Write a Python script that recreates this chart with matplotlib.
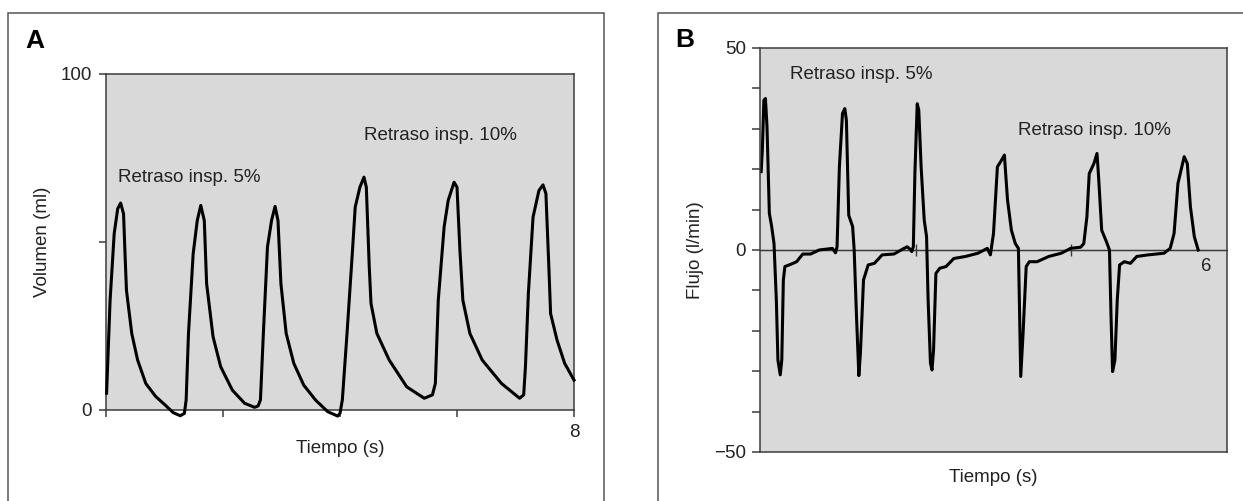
import numpy as np
import matplotlib
matplotlib.use('Agg')
import matplotlib.pyplot as plt
from matplotlib.patches import Rectangle

plt.rcParams['font.family'] = ['Liberation Sans', 'DejaVu Sans']

# Panel A: volumen (ml) frente a tiempo (s)
t_vol = [0.01, 0.07, 0.14, 0.20, 0.25, 0.30, 0.325, 0.35, 0.44, 0.54, 0.68, 0.85, 1.01, 1.15, 1.27, 1.34,
         1.37, 1.41, 1.49, 1.56, 1.62, 1.68, 1.72, 1.83, 1.96, 2.16, 2.37, 2.54, 2.60,
         2.64, 2.69, 2.76, 2.83, 2.89, 2.94, 2.99, 3.08, 3.21, 3.38, 3.58, 3.79, 3.96, 4.00,
         4.04, 4.12, 4.21, 4.26, 4.34, 4.41, 4.45, 4.50, 4.53, 4.63, 4.84, 5.14, 5.44, 5.58,
         5.63, 5.68, 5.78, 5.85, 5.95, 6.00, 6.05, 6.10, 6.22, 6.43, 6.76, 7.07, 7.14,
         7.17, 7.22, 7.30, 7.40, 7.47, 7.52, 7.57, 7.60, 7.71, 7.84, 8.00]
vol = [5.0, 32.7, 52.5, 59.9, 61.6, 58.4, 46.5, 35.6, 22.8, 14.9, 7.9, 4.0, 1.5, -0.8, -1.7, -1.0,
       3.0, 22.8, 46.5, 56.4, 60.9, 56.4, 37.6, 21.8, 12.9, 5.9, 2.0, 0.8, 1.2,
       3.0, 22.8, 48.5, 56.4, 60.6, 56.4, 37.6, 22.8, 13.9, 7.4, 3.0, -0.5, -1.8, -1.0,
       3.0, 22.8, 46.5, 60.4, 66.3, 69.3, 66.3, 42.6, 31.7, 22.8, 14.9, 6.9, 3.5, 4.5,
       7.9, 32.7, 54.5, 62.4, 67.8, 66.3, 47.5, 32.7, 22.8, 14.9, 7.9, 3.5, 4.5,
       12.9, 34.7, 57.4, 65.3, 67.0, 64.4, 42.6, 28.7, 20.8, 13.9, 8.9]

# Panel B: flujo (l/min) frente a tiempo (s)
t_flujo = [0.015, 0.03, 0.05, 0.07, 0.09, 0.12, 0.15, 0.18, 0.21, 0.23, 0.26, 0.28, 0.30, 0.32,
           0.40, 0.47, 0.55, 0.65, 0.76, 0.93, 0.97, 0.99,
           1.02, 1.06, 1.09, 1.11, 1.14, 1.19, 1.21, 1.24, 1.27, 1.29, 1.33, 1.39, 1.47,
           1.57, 1.72, 1.85, 1.89, 1.93, 1.95, 1.97,
           1.99, 2.02, 2.04, 2.07, 2.11, 2.14, 2.16, 2.19, 2.21, 2.23, 2.26, 2.31, 2.39,
           2.49, 2.64, 2.80, 2.92, 2.96,
           3.00, 3.05, 3.09, 3.14, 3.18, 3.23, 3.28, 3.32, 3.35, 3.38, 3.42, 3.46, 3.56,
           3.71, 3.87, 3.99, 4.12, 4.16,
           4.20, 4.23, 4.29, 4.33, 4.35, 4.39, 4.45, 4.49, 4.51, 4.53, 4.56, 4.59, 4.62,
           4.68, 4.76, 4.84, 4.99, 5.19, 5.27,
           5.32, 5.37, 5.41, 5.45, 5.49, 5.53, 5.58, 5.63]
flujo = [19.4, 24.7, 37.1, 37.5, 30.5, 9.1, 5.8, 1.6, -12.4, -27.2, -30.9, -27.2, -7.4, -4.1,
         -3.5, -2.9, -1.0, -1.0, 0.0, 0.4, -0.7, 0.8,
         20.6, 33.8, 35.0, 32.1, 8.6, 5.8, 0.0, -16.5, -31.1, -25.5, -7.4, -3.7, -3.3,
         -1.2, -1.0, 0.4, 0.8, 0.2, -0.4, 0.8,
         18.9, 36.2, 34.6, 20.6, 7.4, 3.3, -12.4, -28.0, -29.7, -24.7, -5.8, -4.5, -4.1,
         -2.1, -1.6, -0.8, 0.4, -1.2,
         4.1, 20.6, 21.8, 23.5, 12.4, 4.9, 1.6, 0.4, -31.3, -20.6, -4.1, -2.9, -2.9,
         -1.6, -0.8, 0.4, 0.7, 1.6,
         8.2, 18.9, 21.4, 23.9, 18.1, 4.9, 2.1, 0.0, -16.5, -30.1, -27.2, -12.4, -3.7,
         -2.9, -3.3, -1.6, -1.2, -0.8, 0.4,
         4.1, 16.5, 19.8, 23.1, 21.4, 10.7, 3.3, 0.0]

fondo = '#d9d9d9'
borde = '#3c3c3c'
texto = '#222222'
fs = 13.5

fig = plt.figure(figsize=(12.43, 5.01), dpi=100)

# marcos de cada panel (abiertos por abajo)
for x0, x1 in [(8, 604), (658, 1300)]:
    fig.add_artist(Rectangle((x0 / 1243, -0.2), (x1 - x0) / 1243, 1.2 - 13 / 501,
                             transform=fig.transFigure, fill=False, ec='#555555', lw=1.1,
                             clip_on=False))

# --- Panel A ---
axA = fig.add_axes([106 / 1243, 91 / 501, 468 / 1243, 336 / 501])
axA.set_facecolor(fondo)
axA.plot(t_vol, vol, color='black', lw=2.2, solid_joinstyle='round', clip_on=False, zorder=3)
axA.set_xlim(0, 8)
axA.set_ylim(0, 100)
axA.set_xticks([0, 2, 4, 6, 8], ['', '', '', '', '8'])
axA.set_yticks([0, 50, 100], ['0', '', '100'])
axA.tick_params(direction='out', length=5, width=1.1, color=borde, labelsize=fs,
                labelcolor=texto, pad=5)
for s in axA.spines.values():
    s.set_color(borde)
    s.set_linewidth(1.1)
axA.set_ylabel('Volumen (ml)', fontsize=fs, color=texto, va='center')
axA.yaxis.set_label_coords(-0.135, 0.5)
axA.set_xlabel('Tiempo (s)', fontsize=fs, color=texto, va='center')
axA.xaxis.set_label_coords(0.5, -0.116)
axA.text(0.2, 69.3, 'Retraso insp. 5%', fontsize=fs, color=texto, va='center')
axA.text(4.41, 81.7, 'Retraso insp. 10%', fontsize=fs, color=texto, va='center')
fig.text(25 / 1243, (501 - 48) / 501, 'A', fontsize=19, fontweight='bold', va='baseline')

# --- Panel B ---
axB = fig.add_axes([760 / 1243, 49 / 501, 467 / 1243, 404 / 501])
axB.set_facecolor(fondo)
axB.axhline(0, color=borde, lw=1.0, zorder=1)
axB.plot(t_flujo, flujo, color='black', lw=2.2, solid_joinstyle='round', zorder=2)
axB.set_xlim(0, 6)
axB.set_ylim(-50, 50)
axB.set_xticks([])
axB.set_yticks(np.arange(-50, 51, 10),
               ['\u221250', '', '', '', '', '0', '', '', '', '', '50'])
axB.tick_params(axis='y', direction='out', length=6, width=1.1, color=borde,
                labelsize=fs, labelcolor=texto, pad=4)
for s in axB.spines.values():
    s.set_color(borde)
    s.set_linewidth(1.1)
eje0 = axB.secondary_xaxis(0.5)
eje0.set_xticks([2, 4], ['', ''])
eje0.tick_params(direction='inout', length=8, width=1.0, color=borde, labelbottom=False)
eje0.spines['bottom'].set_visible(False)
axB.annotate('6', xy=(6, 0), xytext=(-15, -12), textcoords='offset points',
             fontsize=fs, color=texto, ha='center', va='center')
axB.set_ylabel('Flujo (l/min)', fontsize=fs, color=texto, va='center')
axB.yaxis.set_label_coords(-0.139, 0.5)
axB.set_xlabel('Tiempo (s)', fontsize=fs, color=texto, va='center')
axB.xaxis.set_label_coords(0.5, -0.062)
axB.text(0.39, 43.5, 'Retraso insp. 5%', fontsize=fs, color=texto, va='center')
axB.text(3.32, 29.5, 'Retraso insp. 10%', fontsize=fs, color=texto, va='center')
fig.text(675 / 1243, (501 - 47) / 501, 'B', fontsize=19, fontweight='bold', va='baseline')

fig.savefig('out.png', dpi=100)
